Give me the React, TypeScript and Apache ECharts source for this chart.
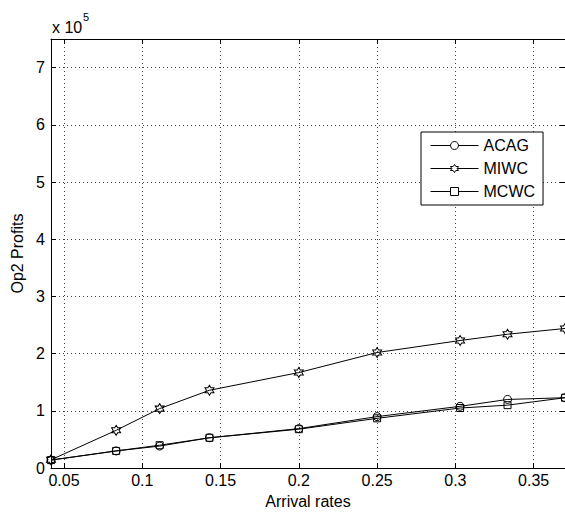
import React, { useEffect, useRef } from "react";
import * as echarts from "echarts";

const arrivalRates = [0.0417, 0.0833, 0.1111, 0.1429, 0.2, 0.25, 0.303, 0.3333, 0.37];
const acag = [14000, 30000, 38500, 53000, 69000, 90000, 108000, 120000, 123000];
const miwc = [14500, 66000, 104000, 136000, 167000, 202000, 223000, 234000, 244000];
const mcwc = [14000, 30000, 40000, 53000, 68000, 87000, 105000, 110000, 123000];
const xTicks = [0.05, 0.1, 0.15, 0.2, 0.25, 0.3, 0.35];
const yTicks = [0, 100000, 200000, 300000, 400000, 500000, 600000, 700000];

const HEX =
  "path://M100,0L128.87,50L186.6,50L157.7,100L186.6,150L128.87,150L100,200L71.13,150L13.4,150L42.3,100L13.4,50L71.13,50Z";

const FONT = "Liberation Sans, Arial, Helvetica, sans-serif";
const FS = 16;

export default function App() {
  const ref = useRef<HTMLDivElement>(null);
  useEffect(() => {
    if (!ref.current) return;
    const chart = echarts.init(ref.current, null, { renderer: "svg" });
    const pair = (ys: number[]) => arrivalRates.map((x, i) => [x, ys[i]]);
    const mk = (name: string, ys: number[], symbol: string, size: any) => ({
      name,
      type: "line",
      data: pair(ys),
      symbol,
      symbolSize: size,
      showAllSymbol: true,
      clip: false,
      color: "#000",
      lineStyle: { color: "#000", width: 1 },
      itemStyle: { color: "rgba(255,255,255,0)", borderColor: "#000", borderWidth: 1 },
      emphasis: { disabled: true },
    });
    const gridLine = { show: true, lineStyle: { color: "#444", type: [1, 3], width: 1 } };
    chart.setOption({
      animation: false,
      backgroundColor: "#fff",
      textStyle: { fontFamily: FONT },
      grid: { left: 51, top: 39, right: 0, bottom: 44, containLabel: false },
      xAxis: [
        {
          type: "value",
          min: 0.0417,
          max: 0.37,
          position: "bottom",
          name: "Arrival rates",
          nameLocation: "middle",
          nameGap: 15,
          nameTextStyle: { color: "#000", fontSize: FS, fontFamily: FONT },
          axisLine: { show: true, onZero: false, lineStyle: { color: "#000", width: 1 } },
          axisTick: { show: true, inside: true, length: 5, customValues: xTicks, lineStyle: { color: "#000" } },
          axisLabel: {
            customValues: xTicks,
            color: "#000",
            fontSize: FS,
            fontFamily: FONT,
            margin: 4,
            formatter: (v: number) => String(v),
          },
          splitLine: gridLine,
        },
        {
          type: "value",
          min: 0.0417,
          max: 0.37,
          position: "top",
          axisLine: { show: true, onZero: false, lineStyle: { color: "#000", width: 1 } },
          axisTick: { show: true, inside: true, length: 5, customValues: xTicks, lineStyle: { color: "#000" } },
          axisLabel: { show: false },
          splitLine: { show: false },
        },
      ],
      yAxis: [
        {
          type: "value",
          min: 0,
          max: 750000,
          position: "left",
          name: "Op2 Profits",
          nameLocation: "middle",
          nameGap: 19,
          nameRotate: 90,
          nameTextStyle: { color: "#000", fontSize: FS, fontFamily: FONT },
          axisLine: { show: true, onZero: false, lineStyle: { color: "#000", width: 1 } },
          axisTick: { show: true, inside: true, length: 5, customValues: yTicks, lineStyle: { color: "#000" } },
          axisLabel: {
            customValues: yTicks,
            color: "#000",
            fontSize: FS,
            fontFamily: FONT,
            margin: 6,
            formatter: (v: number) => String(Math.round(v / 100000)),
          },
          splitLine: gridLine,
        },
        {
          type: "value",
          min: 0,
          max: 750000,
          position: "right",
          axisLine: { show: true, onZero: false, lineStyle: { color: "#000", width: 1 } },
          axisTick: { show: true, inside: true, length: 5, customValues: yTicks, lineStyle: { color: "#000" } },
          axisLabel: { show: false },
          splitLine: { show: false },
        },
      ],
      legend: {
        data: ["ACAG", "MIWC", "MCWC"],
        orient: "vertical",
        left: 421,
        top: 132,
        itemWidth: 48,
        itemHeight: 10,
        itemGap: 6,
        padding: [5, 8, 5, 9],
        backgroundColor: "#fff",
        borderColor: "#000",
        borderWidth: 1,
        borderRadius: 0,
        itemStyle: { color: "#fff", borderColor: "#000", borderWidth: 1 },
        lineStyle: { color: "#000", width: 1 },
        textStyle: { color: "#000", fontSize: FS, fontFamily: FONT, lineHeight: 17 },
        selectedMode: false,
      },
      graphic: [
        {
          type: "text",
          left: 52,
          top: 19,
          style: { text: "x 10", fill: "#000", font: `16px "Liberation Sans", Arial, sans-serif` },
        },
        {
          type: "text",
          left: 83,
          top: 11,
          style: { text: "5", fill: "#000", font: `11px "Liberation Sans", Arial, sans-serif` },
        },
      ],
      series: [
        mk("ACAG", acag, "circle", 8),
        mk("MIWC", miwc, HEX, [9, 10]),
        mk("MCWC", mcwc, "rect", 7),
      ],
    });
    return () => chart.dispose();
  }, []);
  return (
    <div
      ref={ref}
      style={{ position: "fixed", left: 0, top: 0, width: 565, height: 514, overflow: "hidden" }}
    />
  );
}
